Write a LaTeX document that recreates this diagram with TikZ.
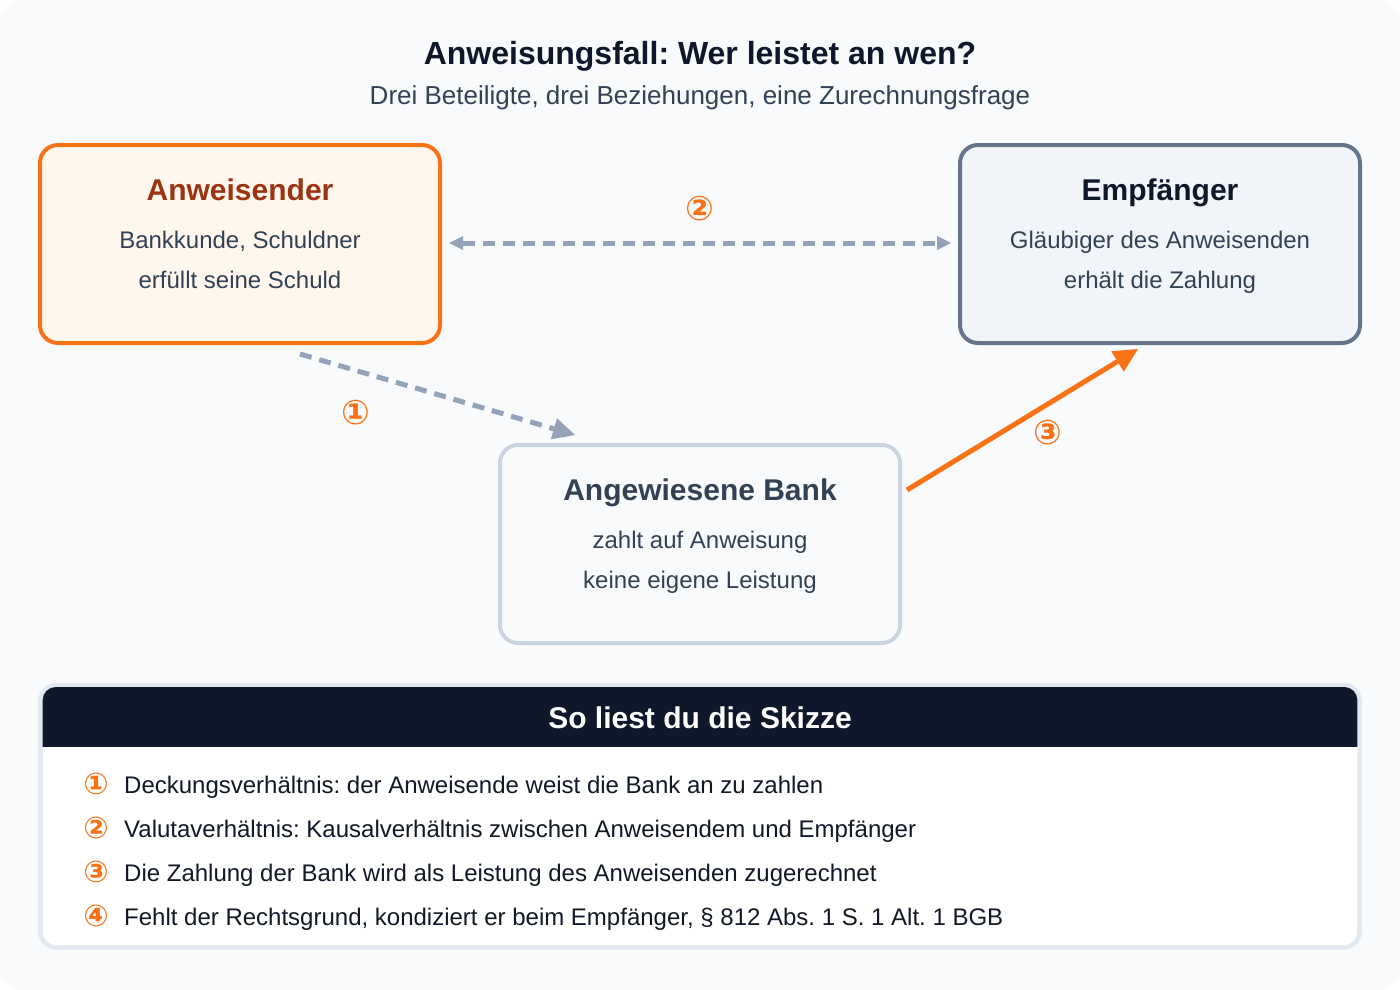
\documentclass[tikz,border=0pt]{standalone}
\usepackage{fontspec}
\setmainfont{Liberation Sans}
\newfontfamily\numfont{DejaVu Sans}
\usetikzlibrary{arrows.meta}
\frenchspacing
\definecolor{bgc}{HTML}{F8FAFC}
\definecolor{orng}{HTML}{F97316}
\definecolor{orfill}{HTML}{FFF7ED}
\definecolor{ortitle}{HTML}{9A3412}
\definecolor{empstroke}{HTML}{64748B}
\definecolor{empfill}{HTML}{F1F5F9}
\definecolor{navy}{HTML}{0F172A}
\definecolor{bankstroke}{HTML}{CBD5E1}
\definecolor{slate}{HTML}{334155}
\definecolor{dashc}{HTML}{94A3B8}
\definecolor{panelb}{HTML}{E2E8F0}
\definecolor{ink}{HTML}{111827}
\tikzset{
  box/.style={draw, line width=4pt, rounded corners=18pt, minimum width=400pt, minimum height=198pt, inner sep=0pt},
  ttl/.style={anchor=base, inner sep=0pt, font=\bfseries\fontsize{30}{36}\selectfont},
  sub/.style={anchor=base, inner sep=0pt, text=slate, font=\fontsize{24}{29}\selectfont},
  lbl/.style={inner sep=0pt, text=orng, font=\numfont\bfseries\fontsize{34}{38}\selectfont},
  itemtext/.style={anchor=base west, inner sep=0pt, text=ink, font=\fontsize{24}{29}\selectfont},
  itemnum/.style={anchor=base, inner sep=0pt, text=orng, font=\numfont\bfseries\fontsize{30}{34}\selectfont},
  dasharrow/.style={draw=dashc, line width=5pt, dash pattern=on 12pt off 8pt},
}
\begin{document}
\begin{tikzpicture}[x=1pt,y=-1pt]
\useasboundingbox (0,0) rectangle (1400,990);
\fill[white] (0,0) rectangle (1400,990);
\fill[bgc, rounded corners=24pt] (0,0) rectangle (1400,990);

% title
\node[anchor=base, inner sep=0pt, text=navy, font=\bfseries\fontsize{32}{38}\selectfont] (title) at (700,65) {Anweisungsfall: Wer leistet an wen?};
\node[anchor=base, inner sep=0pt, text=slate, font=\fontsize{26}{31}\selectfont] (subtitle) at (700,104) {Drei Beteiligte, drei Beziehungen, eine Zurechnungsfrage};

% boxes
\node[box, draw=orng, fill=orfill] (A) at (240,244) {};
\node[box, draw=empstroke, fill=empfill] (E) at (1160,244) {};
\node[box, draw=bankstroke, fill=bgc] (B) at (700,544) {};

\node[ttl, text=ortitle] (At) at (240,200) {Anweisender};
\node[sub] (A1) at (240,248) {Bankkunde, Schuldner};
\node[sub] (A2) at (240,288) {erfüllt seine Schuld};

\node[ttl, text=navy] (Et) at (1160,200) {Empfänger};
\node[sub] (E1) at (1160,248) {Gläubiger des Anweisenden};
\node[sub] (E2) at (1160,288) {erhält die Zahlung};

\node[ttl, text=slate] (Bt) at (700,500) {Angewiesene Bank};
\node[sub] (B1) at (700,548) {zahlt auf Anweisung};
\node[sub] (B2) at (700,588) {keine eigene Leistung};

% connectors
\draw[dasharrow, {Triangle[length=14pt,width=14pt,line width=0pt]}-{Triangle[length=14pt,width=14pt,line width=0pt]}]
  ([xshift=7pt,yshift=1pt]A.east) -- ([xshift=-7pt,yshift=1pt]E.west);
\draw[dasharrow, -{Triangle[length=22pt,width=22pt,line width=0pt]}]
  ([xshift=60pt,yshift=-9pt]A.south) -- ([xshift=-125pt,yshift=8pt]B.north);
\draw[draw=orng, line width=5pt, -{Triangle[length=24pt,width=24pt,line width=0pt]}]
  ([xshift=5pt,yshift=54pt]B.east) -- ([xshift=-22pt,yshift=-4pt]E.south);

\node[lbl] (l2) at (700,209) {②};
\node[lbl] (l1) at (356,413) {①};
\node[lbl] (l3) at (1048,433) {③};

% legend panel
\node[draw=panelb, fill=white, line width=4.5pt, rounded corners=16pt, minimum width=1319pt, minimum height=262.5pt, inner sep=0pt] (panel) at (700,816.25) {};
\begin{scope}
  \clip (0,687) rectangle (1400,746);
  \fill[navy, rounded corners=13pt] (42.7,687) rectangle (1357.3,780);
\end{scope}
\node[anchor=base, inner sep=0pt, text=white, font=\bfseries\fontsize{30}{36}\selectfont] (hdr) at (700,728) {So liest du die Skizze};

\node[itemnum] (n1) at (96,794) {①};
\node[itemtext] (t1) at (124,793) {Deckungsverhältnis: der Anweisende weist die Bank an zu zahlen};
\node[itemnum] (n2) at (96,838) {②};
\node[itemtext] (t2) at (124,837) {Valutaverhältnis: Kausalverhältnis zwischen Anweisendem und Empfänger};
\node[itemnum] (n3) at (96,882) {③};
\node[itemtext] (t3) at (124,881) {Die Zahlung der Bank wird als Leistung des Anweisenden zugerechnet};
\node[itemnum] (n4) at (96,926) {④};
\node[itemtext] (t4) at (124,925) {Fehlt der Rechtsgrund, kondiziert er beim Empfänger, § 812 Abs. 1 S. 1 Alt. 1 BGB};
\end{tikzpicture}
\end{document}
